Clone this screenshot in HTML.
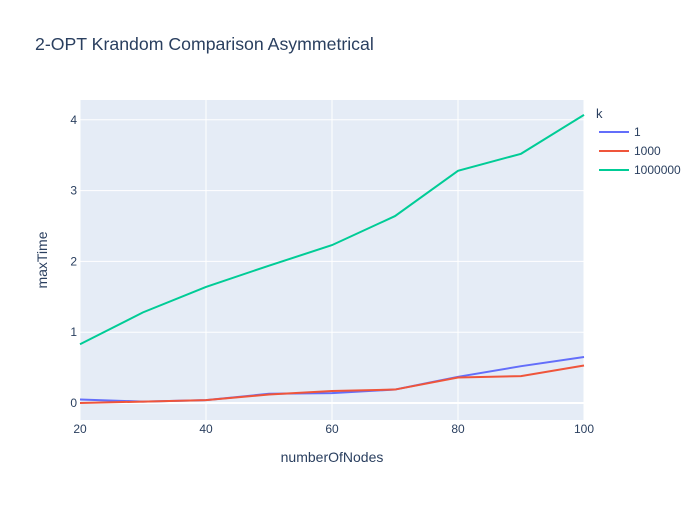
<!DOCTYPE html>
<html><head><meta charset="utf-8"><style>
body{margin:0;background:#fff;font-family:"Liberation Sans",sans-serif}
text{font-family:"Liberation Sans",sans-serif}
</style></head><body>
<svg id="chart" width="700" height="500">
<rect x="0" y="0" width="700" height="500" fill="#fff"/>
<rect x="80" y="100" width="504" height="320" fill="#e5ecf6"/>
<g id="grid"></g><g id="lines"></g><g id="ticks"></g>
<text x="35" y="50" font-size="17.7" fill="#2a3f5f">2-OPT Krandom Comparison Asymmetrical</text>
<text x="332" y="462" font-size="14" fill="#2a3f5f" text-anchor="middle">numberOfNodes</text>
<text x="47" y="260" font-size="14" fill="#2a3f5f" text-anchor="middle" transform="rotate(-90 47 260)">maxTime</text>
<g id="legend"><text x="596" y="118" font-size="13" fill="#2a3f5f">k</text></g>
</svg>
<script>
const xs=[20,30,40,50,60,70,80,90,100];
const seriesNames=["1","1000","1000000"];
const s1=[0.05,0.02,0.04,0.13,0.14,0.19,0.37,0.52,0.65];
const s1000=[0.0,0.02,0.04,0.12,0.17,0.19,0.36,0.38,0.53];
const s1000000=[0.83,1.28,1.64,1.94,2.23,2.64,3.28,3.52,4.07];
const xTicks=[20,40,60,80,100];
const yTicks=[0,1,2,3,4];
const colors=["#636efa","#EF553B","#00cc96"];
const NS="http://www.w3.org/2000/svg";
const X=v=>80+(v-20)/80*504;
const Y=v=>403-v*70.8;
function mk(t,a,p){const e=document.createElementNS(NS,t);for(const k in a)e.setAttribute(k,a[k]);p.appendChild(e);return e;}
const grid=document.getElementById('grid'),ticks=document.getElementById('ticks'),lines=document.getElementById('lines'),legend=document.getElementById('legend');
xTicks.forEach(v=>{
 const l=mk('line',{x1:X(v),x2:X(v),y1:100,y2:420,stroke:'#fff','stroke-width':1},grid);
 
 
 const t=mk('text',{x:X(v),y:433,'font-size':12,fill:'#2a3f5f','text-anchor':'middle'},ticks);t.textContent=v;
 
 
});
yTicks.forEach(v=>{
 const l=mk('line',{x1:80,x2:584,y1:Y(v),y2:Y(v),stroke:'#fff','stroke-width':v===0?2:1},grid);
 
 
 const t=mk('text',{x:77,y:Y(v)+4,'font-size':12,fill:'#2a3f5f','text-anchor':'end'},ticks);t.textContent=v;
 
 
});
[s1,s1000,s1000000].forEach((s,i)=>{
 const p=mk('polyline',{points:s.map((v,j)=>X(xs[j])+','+Y(v)).join(' '),fill:'none',stroke:colors[i],'stroke-width':2},lines);
 
 
 const ly=132+i*19;
 const ll=mk('line',{x1:599,x2:629,y1:ly,y2:ly,stroke:colors[i],'stroke-width':2},legend);
 
 
 const lt=mk('text',{x:634,y:ly+4,'font-size':12,fill:'#2a3f5f'},legend);lt.textContent=seriesNames[i];
 
 
});
</script>
</body></html>
